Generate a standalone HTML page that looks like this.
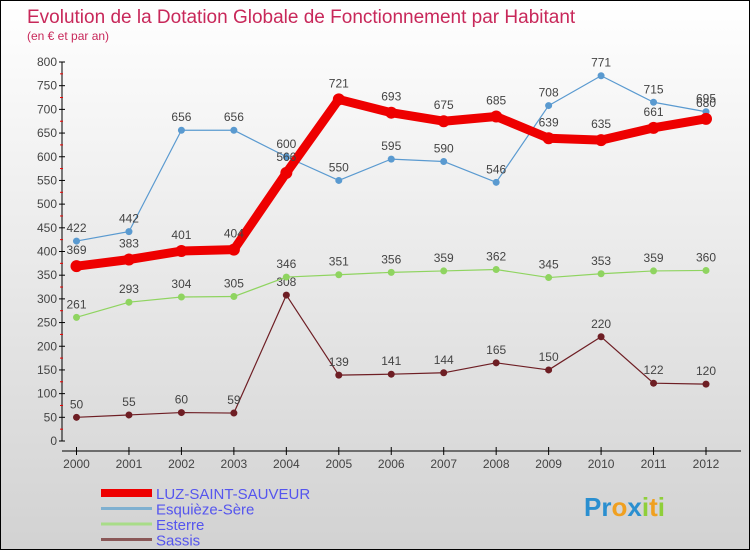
<!DOCTYPE html>
<html><head><meta charset="utf-8"><style>
body{margin:0}
#c{width:750px;height:550px;position:relative;box-sizing:border-box;border:1px solid #000;background:linear-gradient(#ffffff,#d2d2d2);font-family:"Liberation Sans",sans-serif;overflow:hidden}
</style></head><body>
<div id="c">
<svg id="s" width="750" height="550" style="position:absolute;left:0;top:0"></svg>
</div>
<script>
const years=[2000,2001,2002,2003,2004,2005,2006,2007,2008,2009,2010,2011,2012];
const luz=[369,383,401,404,566,721,693,675,685,639,635,661,680];
const esq=[422,442,656,656,600,550,595,590,546,708,771,715,695];
const est=[261,293,304,305,346,351,356,359,362,345,353,359,360];
const sas=[50,55,60,59,308,139,141,144,165,150,220,122,120];
const yTicks=[0,50,100,150,200,250,300,350,400,450,500,550,600,650,700,750,800];
const NS="http://www.w3.org/2000/svg";
const svg=document.getElementById('s');
function X(i){return 75.5+i*(705-75.5)/12;}
function Y(v){return 440-v*(440-61)/800;}
function el(t,a,p){const e=document.createElementNS(NS,t);for(const k in a)e.setAttribute(k,a[k]);(p||svg).appendChild(e);return e;}
let t=el('text',{x:26,y:22,fill:'#c8285a','font-size':19});t.textContent='Evolution de la Dotation Globale de Fonctionnement par Habitant';


t=el('text',{x:26,y:39,fill:'#c8285a','font-size':12});t.textContent='(en € et par an)';


// axes
let a=el('line',{x1:61,y1:61,x2:61,y2:440,stroke:'#000','stroke-width':1});


a=el('line',{x1:61,y1:450,x2:740,y2:450,stroke:'#000','stroke-width':1});


yTicks.forEach((v,i)=>{
  const y=Y(v);
  el('line',{x1:58,y1:y,x2:64,y2:y,stroke:'#000'});
  if(i<yTicks.length-1)el('line',{x1:59,y1:Y(v+25),x2:62,y2:Y(v+25),stroke:'#e00'});
  const tx=el('text',{x:56,y:y+4,'text-anchor':'end','font-size':12,fill:'#444'});tx.textContent=v;
  
  
});
years.forEach((yr,i)=>{
  el('line',{x1:X(i),y1:446,x2:X(i),y2:454,stroke:'#000'});
  const tx=el('text',{x:X(i),y:467,'text-anchor':'middle','font-size':12,fill:'#444'});tx.textContent=yr;
  
  
});
function series(data,color,w,r,name,labelOff){
  const g=el('g',{});
  
  
  el('polyline',{points:data.map((v,i)=>X(i)+','+Y(v)).join(' '),fill:'none',stroke:color,'stroke-width':w,'stroke-linejoin':'round'},g);
  data.forEach((v,i)=>{
    const c=el('circle',{cx:X(i),cy:Y(v),r:r,fill:color},g);
    
    
    const tx=el('text',{x:X(i),y:Y(v)+labelOff,'text-anchor':'middle','font-size':12,fill:'#444'},g);tx.textContent=v;
    
    
  });
}
series(sas,'#6e1e24',1.2,3.5,'sassis-series',-9);
series(est,'#8fd460',1.2,3.5,'esterre-series',-9);
series(esq,'#5a9ad0',1.2,3.5,'esquieze-sere-series',-9);
series(luz,'#ee0000',9,6,'luz-saint-sauveur-series',-12);
// legend
const leg=[['LUZ-SAINT-SAUVEUR','#ee0000',8],['Esquièze-Sère','#7fb0d0',3],['Esterre','#a8dc88',3],['Sassis','#8a5858',3]];
leg.forEach((l,i)=>{
  const y=492+i*15.5;
  const g=el('g',{});
  
  
  el('line',{x1:100,y1:y,x2:151,y2:y,stroke:l[1],'stroke-width':l[2]},g);
  const tx=el('text',{x:155,y:y+6,'font-size':15,fill:'#5555ee'},g);tx.textContent=l[0];
});
// logo
const lg=el('text',{x:583,y:515,'font-size':26,'font-weight':'bold',fill:'#2a8fd0'});


const parts=[['Pr','#2a8fd0'],['o','#f0a020'],['x','#2a8fd0'],['i','#8fcf3a'],['t','#f0a020'],['i','#8fcf3a']];
parts.forEach(p=>{const s=el('tspan',{fill:p[1]},lg);s.textContent=p[0];});
</script>
</body></html>
